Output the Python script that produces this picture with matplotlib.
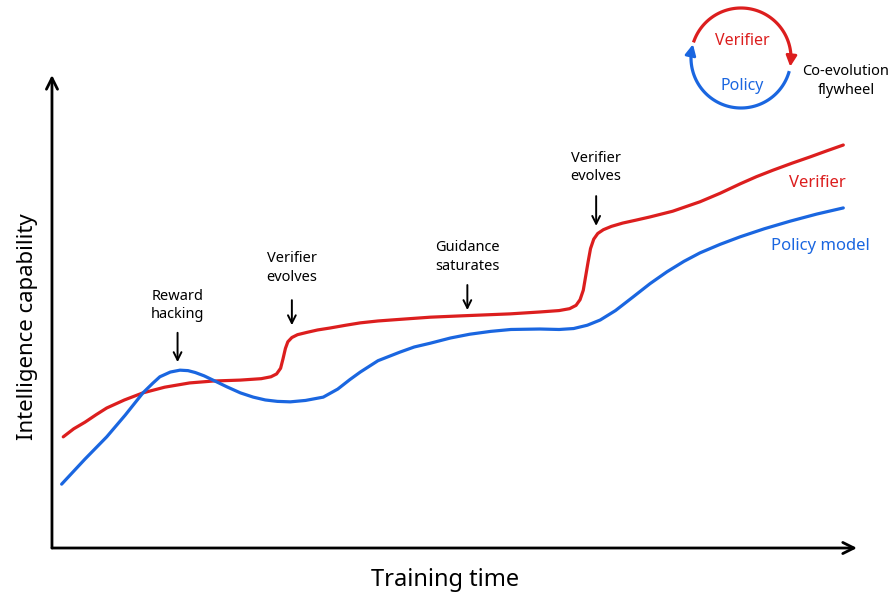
import numpy as np
import matplotlib.pyplot as plt

plt.rcParams['font.family'] = ['Noto Sans', 'DejaVu Sans']

# Du lieu doc tu hinh (truc x: thoi gian 0-100, truc y: nang luc 0-100)
verifier_x = [1.4, 2.7, 4.1, 5.5, 6.8, 9.0, 11.3, 14.0, 17.1, 20.0, 23.4, 26.0, 27.2, 27.9,
              28.4, 28.7, 29.0, 29.3, 29.8, 30.5, 31.7, 33.0, 34.5, 36.5, 38.3, 40.5, 42.9,
              47.0, 51.1, 56.9, 60.6, 63.0, 64.3, 65.1, 65.6, 66.0, 66.3, 66.6, 66.9, 67.3,
              67.8, 68.5, 69.5, 70.9, 72.5, 74.3, 77.1, 80.5, 83.0, 85.5, 87.5, 89.6, 92.0,
              94.2, 96.3, 98.3]
verifier_y = [23.5, 25.2, 26.6, 28.2, 29.6, 31.3, 32.8, 34.0, 34.9, 35.3, 35.5, 35.8, 36.2, 36.8,
              38.0, 40.0, 42.2, 43.6, 44.5, 45.1, 45.6, 46.1, 46.5, 47.1, 47.6, 48.0, 48.3,
              48.8, 49.1, 49.5, 49.9, 50.2, 50.6, 51.3, 52.5, 54.5, 57.5, 60.5, 63.3, 65.3,
              66.5, 67.3, 68.0, 68.7, 69.3, 70.0, 71.2, 73.2, 75.0, 77.0, 78.5, 79.9, 81.4,
              82.7, 84.0, 85.2]

policy_x = [1.2, 4.1, 6.8, 9.1, 11.3, 12.5, 13.4, 14.7, 15.9, 16.9, 17.8, 18.9, 20.0, 21.7,
            23.4, 25.0, 26.5, 28.0, 29.6, 31.5, 33.7, 35.5, 37.0, 38.3, 40.5, 43.2, 45.0,
            47.0, 49.5, 51.9, 54.5, 57.0, 60.6, 63.0, 64.8, 66.5, 68.1, 70.0, 72.2, 74.3,
            76.4, 78.5, 80.5, 83.0, 85.5, 88.5, 91.7, 95.0, 98.3]
policy_y = [13.5, 18.8, 23.5, 28.1, 32.8, 34.8, 36.2, 37.2, 37.6, 37.5, 37.1, 36.4, 35.5, 34.1,
            32.8, 31.9, 31.3, 31.0, 30.9, 31.2, 31.9, 33.6, 35.6, 37.2, 39.6, 41.4, 42.5,
            43.3, 44.4, 45.2, 45.8, 46.2, 46.3, 46.2, 46.4, 47.1, 48.2, 50.2, 53.1, 55.9,
            58.4, 60.6, 62.4, 64.2, 65.8, 67.5, 69.1, 70.6, 71.9]

# Chu thich: (text, x, y chu, y dau mui ten, y cuoi mui ten)
notes = [
    ("Reward\nhacking", 15.6, 51.2, 45.5, 39.3),
    ("Verifier\nevolves", 29.8, 59.2, 52.4, 47.1),
    ("Guidance\nsaturates", 51.6, 61.5, 55.6, 50.3),
    ("Verifier\nevolves", 67.6, 80.5, 74.4, 68.1),
]

RED = '#dc1e1e'
BLUE = '#1a66e0'

fig = plt.figure(figsize=(8.9, 6.03), dpi=100)
ax = fig.add_axes([0.0584, 0.0912, 0.9045, 0.7844])
ax.set_xlim(0, 100)
ax.set_ylim(0, 100)
ax.axis('off')

# Truc toa do co mui ten
ax.annotate('', xy=(1.0, 0), xytext=(0, 0), xycoords='axes fraction',
            arrowprops=dict(arrowstyle='->', lw=2, color='black', mutation_scale=20,
                            shrinkA=0, shrinkB=0))
ax.annotate('', xy=(0, 1.0), xytext=(0, 0), xycoords='axes fraction',
            arrowprops=dict(arrowstyle='->', lw=2, color='black', mutation_scale=20,
                            shrinkA=0, shrinkB=0))
ax.text(0.488, -0.068, 'Training time', transform=ax.transAxes, ha='center', va='center',
        fontsize=17)
ax.text(-0.031, 0.469, 'Intelligence capability', transform=ax.transAxes, ha='center',
        va='center', rotation=90, fontsize=16)

# Duong cong
ax.plot(verifier_x, verifier_y, color=RED, lw=2.3, solid_capstyle='round',
        solid_joinstyle='round')
ax.plot(policy_x, policy_y, color=BLUE, lw=2.3, solid_capstyle='round',
        solid_joinstyle='round')
ax.text(91.6, 77.2, 'Verifier', color=RED, fontsize=12, va='center', ha='left')
ax.text(89.3, 63.8, 'Policy model', color=BLUE, fontsize=12, va='center', ha='left')

for txt, x, ty, a0, a1 in notes:
    ax.text(x, ty, txt, ha='center', va='center', fontsize=10.5, linespacing=1.3)
    ax.annotate('', xy=(x, a1), xytext=(x, a0),
                arrowprops=dict(arrowstyle='->', lw=1.4, color='black', mutation_scale=14,
                                shrinkA=0, shrinkB=0))

# Banh da dong tien hoa
fw = fig.add_axes([681 / 890, 485 / 603, 120 / 890, 120 / 603])
fw.set_xlim(-60, 60)
fw.set_ylim(-60, 60)
fw.axis('off')
r = 50
t_red = np.radians(np.linspace(160, -2, 80))
fw.plot(r * np.cos(t_red), r * np.sin(t_red), color=RED, lw=2.3)
fw.annotate('', xy=(r * np.cos(np.radians(-10)), r * np.sin(np.radians(-10))),
            xytext=(r * np.cos(np.radians(-2)), r * np.sin(np.radians(-2))),
            arrowprops=dict(arrowstyle='-|>', color=RED, lw=2, mutation_scale=16,
                            shrinkA=0, shrinkB=0))
t_blue = np.radians(np.linspace(-17, -188, 80))
fw.plot(r * np.cos(t_blue), r * np.sin(t_blue), color=BLUE, lw=2.3)
fw.annotate('', xy=(r * np.cos(np.radians(-196)), r * np.sin(np.radians(-196))),
            xytext=(r * np.cos(np.radians(-188)), r * np.sin(np.radians(-188))),
            arrowprops=dict(arrowstyle='-|>', color=BLUE, lw=2, mutation_scale=16,
                            shrinkA=0, shrinkB=0))
fw.text(1, 17, 'Verifier', color=RED, fontsize=11.5, ha='center', va='center')
fw.text(1, -28, 'Policy', color=BLUE, fontsize=11.5, ha='center', va='center')

fig.text(846 / 890, 1 - 81 / 603, 'Co-evolution\nflywheel', ha='center', va='center',
         fontsize=10.5, linespacing=1.3)

fig.savefig('out.png', dpi=100)
